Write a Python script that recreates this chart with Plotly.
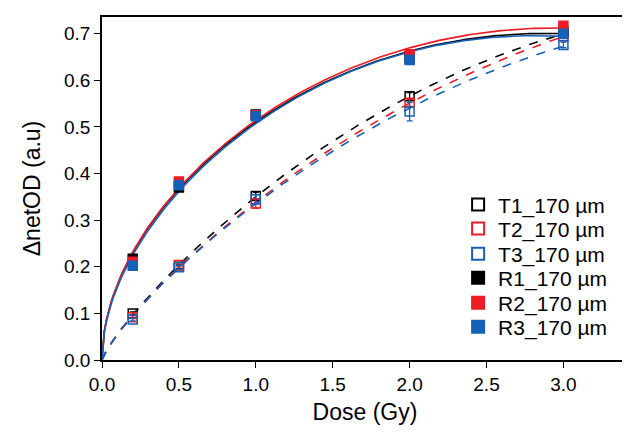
import numpy as np
import plotly.graph_objects as go

dose = [0.2, 0.5, 1.0, 2.0, 3.0]

t1 = [0.100, 0.200, 0.352, 0.566, 0.700]
t2 = [0.092, 0.204, 0.336, 0.552, 0.694]
t3 = [0.087, 0.199, 0.345, 0.533, 0.676]
r1 = [0.217, 0.370, 0.527, 0.648, 0.705]
r2 = [0.211, 0.383, 0.525, 0.656, 0.717]
r3 = [0.202, 0.375, 0.523, 0.644, 0.700]

t1_err = [0.003, 0.004, 0.008, 0.008, 0.004]
t2_err = [0.003, 0.004, 0.010, 0.008, 0.004]
t3_err = [0.003, 0.004, 0.010, 0.020, 0.006]

names = ["T1_170 µm", "T2_170 µm", "T3_170 µm", "R1_170 µm", "R2_170 µm", "R3_170 µm"]

BLACK = "#000000"
RED = "#ec1c24"
BLUE = "#1560b8"


def fit_curve(x, y, powers):
    x = np.asarray(x, float)
    y = np.asarray(y, float)
    A = np.column_stack([x ** p for p in powers])
    coef, *_ = np.linalg.lstsq(A, y, rcond=None)
    xs = np.linspace(0, 3.0, 200)
    ys = sum(c * xs ** p for c, p in zip(coef, powers))
    return xs, ys


fig = go.Figure()

series = [
    (t1, BLACK, "dash", "square-open", t1_err),
    (t2, RED, "dash", "square-open", t2_err),
    (t3, BLUE, "dash", "square-open", t3_err),
    (r1, BLACK, "solid", "square", None),
    (r2, RED, "solid", "square", None),
    (r3, BLUE, "solid", "square", None),
]

# fitted curves first (behind markers)
for vals, col, dash, sym, err in series:
    powers = [0.5, 1.0, 2.0] if dash == "solid" else [0.75, 1.0, 2.0]
    xs, ys = fit_curve(dose, vals, powers)
    fig.add_trace(go.Scatter(x=xs, y=ys, mode="lines",
                             line=dict(color=col, width=1.6, dash="dash" if dash == "dash" else "solid"),
                             showlegend=False, hoverinfo="skip"))

legend_ids = ["legend", "legend2", "legend3", "legend4", "legend5", "legend6"]
legend_y = [0.452, 0.382, 0.309, 0.239, 0.166, 0.096]

for (vals, col, dash, sym, err), nm, lid in zip(series, names, legend_ids):
    kw = {}
    if err is not None:
        kw["error_y"] = dict(type="data", array=err, color=col, thickness=1.3, width=3)
    fig.add_trace(go.Scatter(x=dose, y=vals, mode="markers", name=nm, legend=lid,
                             marker=dict(symbol=sym, size=9, color=col,
                                         line=dict(color=col, width=1.5)),
                             **kw))

legend_common = dict(x=0.677, xanchor="left", yanchor="middle",
                     bgcolor="rgba(0,0,0,0)", font=dict(size=21),
                     itemsizing="constant")

layout_legends = {lid: dict(y=ly, **legend_common) for lid, ly in zip(legend_ids, legend_y)}

fig.update_layout(
    width=622, height=424,
    margin=dict(l=94, r=2, t=9, b=72, autoexpand=False),
    paper_bgcolor="white", plot_bgcolor="white",
    font=dict(family="Liberation Sans, Arial, sans-serif", size=19, color="black"),
    **layout_legends,
)
fig.update_xaxes(range=[0, 3.42], tickvals=[0, 0.5, 1.0, 1.5, 2.0, 2.5, 3.0],
                 ticktext=["0.0", "0.5", "1.0", "1.5", "2.0", "2.5", "3.0"],
                 ticks="outside", ticklen=6, tickwidth=1.3, tickcolor="black",
                 showline=True, linecolor="black", linewidth=1.5, mirror=True,
                 showgrid=False, zeroline=False,
                 title=dict(text="Dose (Gy)", standoff=10))
fig.update_yaxes(range=[0, 0.736], tickvals=[0, 0.1, 0.2, 0.3, 0.4, 0.5, 0.6, 0.7],
                 ticktext=["0.0", "0.1", "0.2", "0.3", "0.4", "0.5", "0.6", "0.7"],
                 ticks="outside", ticklen=6, tickwidth=1.3, tickcolor="black",
                 showline=True, linecolor="black", linewidth=1.5, mirror=True,
                 showgrid=False, zeroline=False,
                 title=dict(text="ΔnetOD (a.u)", standoff=17))

fig.write_html("out.html")
